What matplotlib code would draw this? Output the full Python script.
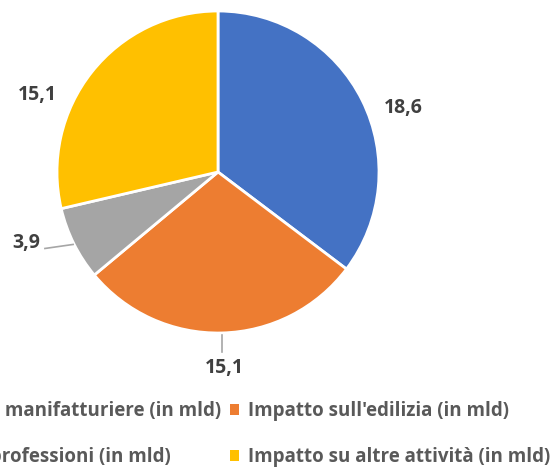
import matplotlib.pyplot as plt
import numpy as np

# values (in mld), clockwise from 12 o'clock
categories = ["Impatto sulle attività manifatturiere (in mld)",
              "Impatto sull'edilizia (in mld)",
              "Impatto sulle libere professioni (in mld)",
              "Impatto su altre attività (in mld)"]
values = [18.6, 15.1, 3.9, 15.1]
value_labels = ["18,6", "15,1", "3,9", "15,1"]
colors = ["#4472C4", "#ED7D31", "#A5A5A5", "#FFC000"]

# label positions in pie units (layout only)
label_pos = [(1.15, 0.40), (0.04, -1.22), (-1.19, -0.44), (-1.12, 0.48)]

plt.rcParams['font.family'] = ['Open Sans', 'DejaVu Sans']

fig = plt.figure(figsize=(5.5, 4.69), dpi=100)
W, H = 550, 469
cx, cy, r = 218, 172, 161
ax = fig.add_axes([(cx - r) / W, (H - cy - r) / H, 2 * r / W, 2 * r / H])

wedges, _ = ax.pie(values, colors=colors, startangle=90, counterclock=False,
                   radius=1, wedgeprops=dict(edgecolor='white', linewidth=2))
ax.set_xlim(-1, 1)
ax.set_ylim(-1, 1)
ax.set_aspect('equal')
ax.axis('off')

for (x, y), txt in zip(label_pos, value_labels):
    ax.text(x, y, txt, ha='center', va='center', fontsize=14,
            fontweight='bold', color='#404040', clip_on=False)

# leader lines for the small / bottom labels
ax.plot([0.025, 0.025], [-1.01, -1.12], color='#A6A6A6', lw=1.2, clip_on=False)
ax.plot([-0.90, -1.075], [-0.45, -0.475], color='#A6A6A6', lw=1.2, clip_on=False)

# legend: columns hold [manifatturiere, professioni] and [edilizia, altre]
order = [0, 2, 1, 3]
leg = fig.legend([wedges[i] for i in order], [categories[i] for i in order],
                 ncol=2, loc='upper right', bbox_to_anchor=(1.0, 1 - 401 / H),
                 frameon=False, handlelength=0.5, handleheight=0.5,
                 handletextpad=0.45, columnspacing=0.45, labelspacing=1.4,
                 borderpad=0, borderaxespad=0,
                 prop={'size': 13.5, 'weight': 'bold'})
for t in leg.get_texts():
    t.set_color('#595959')
for h in leg.legend_handles:
    h.set_edgecolor('none')

fig.savefig("out.png", dpi=100)
